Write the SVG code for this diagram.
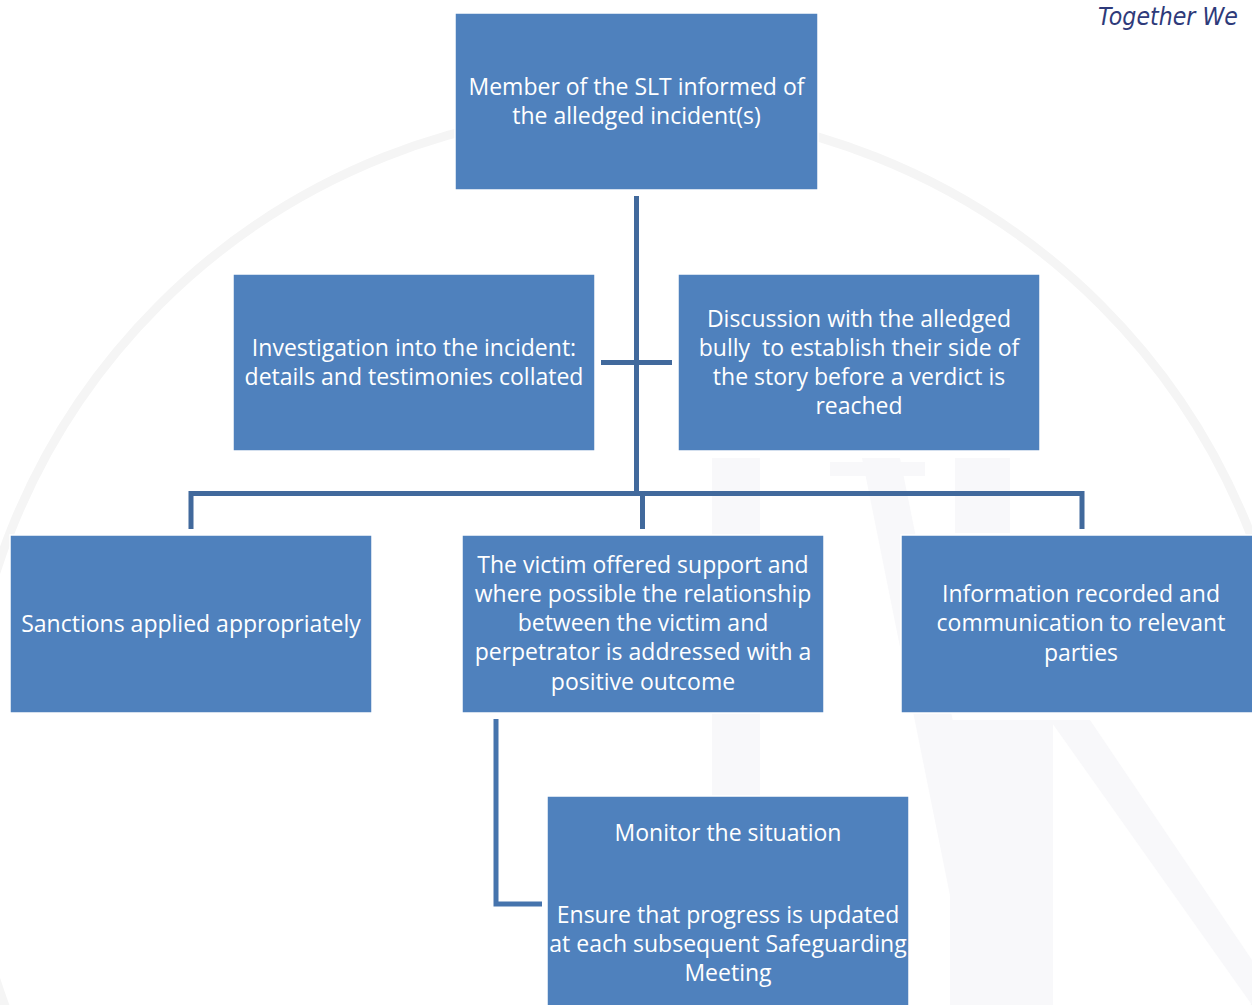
<svg xmlns="http://www.w3.org/2000/svg" width="1252" height="1005" viewBox="0 0 1252 1005">
  <style>
    .box { fill: #4f81bd; stroke: #ffffff; stroke-width: 1.5; }
    .lbl { font-family: "Open Sans", "Noto Sans", "Liberation Sans", sans-serif; font-size: 23px; fill: #ffffff; text-anchor: middle; }
    .conn { stroke: #41699c; stroke-width: 5; fill: none; }
    .conn2 { stroke: #4674ad; stroke-width: 5; fill: none; }
    .wm { fill: #f8f8fa; }
    .hand { font-family: "DejaVu Sans", sans-serif; font-style: italic; font-size: 24px; fill: #2e3a7a; }
  </style>

  <rect width="1252" height="1005" fill="#ffffff"/>

  <!-- faint background emblem -->
  <g id="watermark">
    <circle cx="630" cy="776" r="666" fill="none" stroke="#f5f5f5" stroke-width="9"/>
    <rect class="wm" x="712" y="458" width="48" height="547"/>
    <rect class="wm" x="950" y="720" width="103" height="285"/>
    <polygon class="wm" points="862,458 900,458 1010,1005 972,1005"/>
    <polygon class="wm" points="1050,720 1090,720 1252,960 1252,1005"/>
    <rect class="wm" x="830" y="462" width="95" height="14"/>
    <rect class="wm" x="955" y="458" width="55" height="75"/>
  </g>

  <text class="hand" x="1098" y="25" textLength="140" lengthAdjust="spacingAndGlyphs">Together We</text>

  <!-- connectors -->
  <g id="connectors">
    <line class="conn" x1="636.5" y1="196" x2="636.5" y2="494"/>
    <line class="conn" x1="601" y1="362.5" x2="672" y2="362.5"/>
    <polyline class="conn" points="191,529 191,493.5 1082,493.5 1082,529"/>
    <line class="conn" x1="642.5" y1="493" x2="642.5" y2="529"/>
    <polyline class="conn2" points="496,719 496,904 542,904"/>
  </g>

  <g id="node-slt">
    <rect class="box" x="455" y="13" width="363" height="177"/>
    <text class="lbl" x="636.5" y="95">Member of the SLT informed of</text>
    <text class="lbl" x="636.5" y="124">the alledged incident(s)</text>
  </g>

  <g id="node-investigation">
    <rect class="box" x="233" y="274" width="362" height="177"/>
    <text class="lbl" x="414" y="356">Investigation into the incident:</text>
    <text class="lbl" x="414" y="385">details and testimonies collated</text>
  </g>

  <g id="node-discussion">
    <rect class="box" x="678" y="274" width="362" height="177"/>
    <text class="lbl" x="859" y="327">Discussion with the alledged</text>
    <text class="lbl" x="859" y="356" xml:space="preserve">bully  to establish their side of</text>
    <text class="lbl" x="859" y="385">the story before a verdict is</text>
    <text class="lbl" x="859" y="414">reached</text>
  </g>

  <g id="node-sanctions">
    <rect class="box" x="10" y="535" width="362" height="178"/>
    <text class="lbl" x="191" y="632">Sanctions applied appropriately</text>
  </g>

  <g id="node-victim">
    <rect class="box" x="462" y="535" width="362" height="178"/>
    <text class="lbl" x="643" y="573">The victim offered support and</text>
    <text class="lbl" x="643" y="602">where possible the relationship</text>
    <text class="lbl" x="643" y="631">between the victim and</text>
    <text class="lbl" x="643" y="660">perpetrator is addressed with a</text>
    <text class="lbl" x="643" y="690">positive outcome</text>
  </g>

  <g id="node-information">
    <rect class="box" x="901" y="535" width="353" height="178"/>
    <text class="lbl" x="1081" y="602">Information recorded and</text>
    <text class="lbl" x="1081" y="631">communication to relevant</text>
    <text class="lbl" x="1081" y="661">parties</text>
  </g>

  <g id="node-monitor">
    <rect class="box" x="547" y="796" width="362" height="212"/>
    <text class="lbl" x="728" y="841">Monitor the situation</text>
    <text class="lbl" x="728" y="923">Ensure that progress is updated</text>
    <text class="lbl" x="728" y="952">at each subsequent Safeguarding</text>
    <text class="lbl" x="728" y="981">Meeting</text>
  </g>
</svg>
